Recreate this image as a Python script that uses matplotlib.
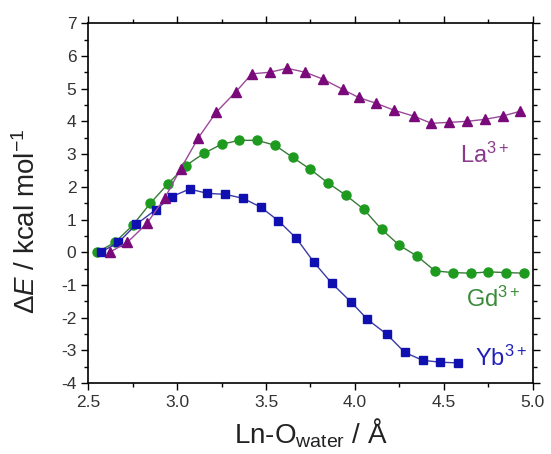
import matplotlib
matplotlib.use("Agg")
import matplotlib.pyplot as plt
from matplotlib.ticker import MultipleLocator, FormatStrFormatter

plt.rcParams['font.family'] = ['Liberation Sans', 'DejaVu Sans']
plt.rcParams['mathtext.fontset'] = 'custom'
plt.rcParams['mathtext.rm'] = 'Liberation Sans'
plt.rcParams['mathtext.it'] = 'Liberation Sans:italic'
plt.rcParams['axes.unicode_minus'] = False

# La3+ (triangles)
la_x = [2.62, 2.72, 2.83, 2.93, 3.02, 3.12, 3.22, 3.33, 3.42, 3.52, 3.62, 3.72,
        3.82, 3.93, 4.02, 4.12, 4.22, 4.33, 4.43, 4.53, 4.63, 4.73, 4.83, 4.93]
la_y = [0.0, 0.3, 0.88, 1.65, 2.55, 3.5, 4.28, 4.9, 5.45, 5.5, 5.62, 5.5,
        5.29, 4.98, 4.73, 4.55, 4.34, 4.16, 3.94, 3.97, 4.0, 4.06, 4.16, 4.31]

# Gd3+ (circles)
gd_x = [2.55, 2.65, 2.75, 2.85, 2.95, 3.05, 3.15, 3.25, 3.35, 3.45, 3.55, 3.65,
        3.75, 3.85, 3.95, 4.05, 4.15, 4.25, 4.35, 4.45, 4.55, 4.65, 4.75, 4.85, 4.95]
gd_y = [0.0, 0.3, 0.82, 1.5, 2.1, 2.65, 3.02, 3.3, 3.42, 3.42, 3.27, 2.9,
        2.53, 2.11, 1.74, 1.31, 0.7, 0.21, -0.12, -0.57, -0.62, -0.64, -0.6, -0.62, -0.64]

# Yb3+ (squares)
yb_x = [2.57, 2.67, 2.77, 2.88, 2.97, 3.07, 3.17, 3.27, 3.37, 3.47, 3.57, 3.67,
        3.77, 3.87, 3.98, 4.07, 4.18, 4.28, 4.38, 4.48, 4.58]
yb_y = [0.0, 0.3, 0.85, 1.3, 1.7, 1.93, 1.8, 1.77, 1.65, 1.38, 0.96, 0.43,
        -0.31, -0.95, -1.53, -2.05, -2.51, -3.06, -3.3, -3.36, -3.38]

fig = plt.figure(figsize=(5.51, 4.54), dpi=100)
ax = fig.add_axes([0.160, 0.156, 0.807, 0.793])

ax.plot(gd_x, gd_y, color="#3a7a3a", lw=1.0, marker="o", ms=6.5,
        mfc="#1e9a1e", mec="#1e9a1e")
ax.plot(yb_x, yb_y, color="#3a3aa8", lw=1.0, marker="s", ms=6,
        mfc="#1010b0", mec="#1010b0")
ax.plot(la_x, la_y, color="#9a4a9a", lw=1.0, marker="^", ms=7.5,
        mfc="#7a0a7a", mec="#7a0a7a")

ax.text(4.73, 2.95, r"La$^{3+}$", color="#8a3a8a", fontsize=17, ha="center", va="center")
ax.text(4.78, -1.45, r"Gd$^{3+}$", color="#3a8a3a", fontsize=17, ha="center", va="center")
ax.text(4.82, -3.25, r"Yb$^{3+}$", color="#2020b8", fontsize=17, ha="center", va="center")

ax.set_xlim(2.5, 5.0)
ax.set_ylim(-4, 7)
ax.xaxis.set_major_locator(MultipleLocator(0.5))
ax.xaxis.set_minor_locator(MultipleLocator(0.25))
ax.yaxis.set_major_locator(MultipleLocator(1))
ax.yaxis.set_minor_locator(MultipleLocator(0.5))
ax.xaxis.set_major_formatter(FormatStrFormatter("%.1f"))

ax.tick_params(which="both", top=True, right=True, labelsize=12.5, labelcolor="#333333")
ax.tick_params(which="major", length=5, width=1)
ax.tick_params(which="minor", length=3, width=1)
for s in ax.spines.values():
    s.set_linewidth(1.2)

ax.set_xlabel(r"Ln-O$_{\mathrm{water}}$ / Å", fontsize=20, color="#222222", labelpad=5)
ax.set_ylabel(r"$\Delta$$E$ / kcal mol$^{-1}$", fontsize=20, color="#222222")
ax.yaxis.set_label_coords(-0.105, 0.45)

fig.savefig("out.png", dpi=100)
